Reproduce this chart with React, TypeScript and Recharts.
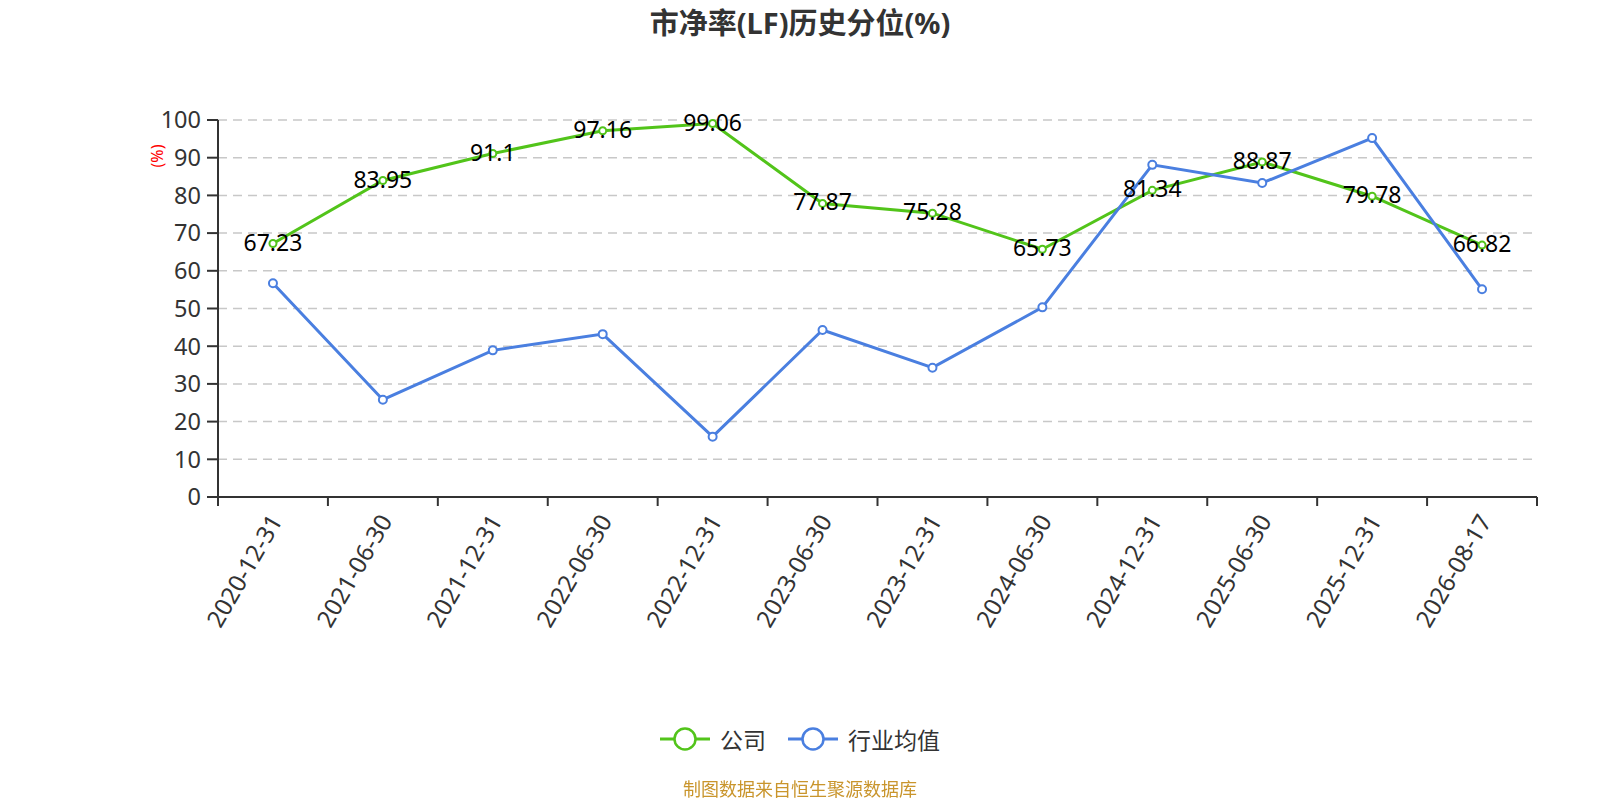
import React from "react";
import { LineChart, Line, XAxis, YAxis, CartesianGrid, LabelList } from "recharts";

const categories = [
  "2020-12-31",
  "2021-06-30",
  "2021-12-31",
  "2022-06-30",
  "2022-12-31",
  "2023-06-30",
  "2023-12-31",
  "2024-06-30",
  "2024-12-31",
  "2025-06-30",
  "2025-12-31",
  "2026-08-17",
];
const companyValues = [67.23, 83.95, 91.1, 97.16, 99.06, 77.87, 75.28, 65.73, 81.34, 88.87, 79.78, 66.82];
const industryValues = [56.7, 25.8, 38.9, 43.2, 16.0, 44.3, 34.3, 50.3, 88.1, 83.3, 95.2, 55.1];
const yTicks = [0, 10, 20, 30, 40, 50, 60, 70, 80, 90, 100];

const W = 1600;
const H = 800;
const LEFT = 218;
const RIGHT = 63;
const BAND = (W - LEFT - RIGHT) / categories.length;

const GREEN = "#52c41a";
const BLUE = "#4a7fe0";
const FONT = '"Noto Sans", "Noto Sans CJK SC", sans-serif';

const data = categories.map((date, i) => ({
  date,
  company: companyValues[i],
  industry: industryValues[i],
}));

// ticks sit on the band edges, labels at the band centre
const XTick = (props: any) => {
  const { x, y, payload, index } = props;
  const half = BAND / 2;
  const ty = y + 10;
  return (
    <g>
      <line x1={x - half} x2={x - half} y1={y - 9} y2={y} stroke="#333" strokeWidth={2} />
      {index === categories.length - 1 && (
        <line x1={x + half} x2={x + half} y1={y - 9} y2={y} stroke="#333" strokeWidth={2} />
      )}
      <text
        x={x + 2}
        y={ty}
        textAnchor="end"
        dominantBaseline="central"
        fontSize={24}
        fill="#333"
        fontFamily={FONT}
        transform={`rotate(-60 ${x + 2} ${ty})`}
      >
        {payload.value}
      </text>
    </g>
  );
};

const LegendIcon = ({ color }: { color: string }) => (
  <svg width={50} height={26} style={{ marginRight: 10 }}>
    <line x1={0} x2={50} y1={13} y2={13} stroke={color} strokeWidth={3} />
    <circle cx={25} cy={13} r={10.5} fill="#fff" stroke={color} strokeWidth={2.5} />
  </svg>
);

export default function App() {
  return (
    <div
      style={{
        position: "fixed",
        left: 0,
        top: 0,
        width: W,
        height: H,
        background: "#fff",
        fontFamily: FONT,
      }}
    >
      <div
        style={{
          position: "absolute",
          top: 4,
          left: 0,
          width: W,
          textAlign: "center",
          fontSize: 29,
          fontWeight: 700,
          color: "#333",
          lineHeight: "38px",
        }}
      >
        市净率(LF)历史分位(%)
      </div>

      <LineChart
        width={W}
        height={H}
        data={data}
        margin={{ top: 120, right: RIGHT, left: 0, bottom: 0 }}
      >
        <CartesianGrid vertical={false} stroke="#c8c8c8" strokeDasharray="9 6" strokeWidth={1.5} />
        <XAxis
          dataKey="date"
          scale="band"
          height={303}
          interval={0}
          tickLine={false}
          tickSize={9}
          tickMargin={0}
          axisLine={{ stroke: "#333", strokeWidth: 2 }}
          tick={<XTick />}
        />
        <YAxis
          width={LEFT}
          domain={[0, 100]}
          ticks={yTicks}
          interval={0}
          tickSize={11}
          tickMargin={6}
          axisLine={{ stroke: "#333", strokeWidth: 2 }}
          tickLine={{ stroke: "#333", strokeWidth: 2 }}
          tick={{ fontSize: 23.5, fill: "#333", fontFamily: FONT }}
          label={{
            content: () => (
              <text
                x={157}
                y={156}
                textAnchor="middle"
                dominantBaseline="central"
                fontSize={16}
                fill="#ff0000"
                fontFamily={FONT}
                transform="rotate(-90 157 156)"
              >
                (%)
              </text>
            ),
          }}
        />
        <Line
          type="linear"
          dataKey="company"
          stroke={GREEN}
          strokeWidth={3}
          dot={{ r: 3.5, fill: "#fff", stroke: GREEN, strokeWidth: 2 }}
          activeDot={false}
          isAnimationActive={false}
        />
        <Line
          type="linear"
          dataKey="industry"
          stroke={BLUE}
          strokeWidth={3}
          dot={{ r: 4, fill: "#fff", stroke: BLUE, strokeWidth: 2 }}
          activeDot={false}
          isAnimationActive={false}
        />
        {/* label layer on top of both lines */}
        <Line
          type="linear"
          dataKey="company"
          stroke="none"
          dot={false}
          activeDot={false}
          legendType="none"
          isAnimationActive={false}
        >
          <LabelList
            dataKey="company"
            content={(p: any) => (
              <text
                x={p.x}
                y={p.y - 2}
                textAnchor="middle"
                dominantBaseline="central"
                fontSize={23}
                fill="#000"
                fontFamily={FONT}
              >
                {p.value}
              </text>
            )}
          />
        </Line>
      </LineChart>

      <div
        style={{
          position: "absolute",
          top: 722,
          left: 0,
          width: W,
          display: "flex",
          justifyContent: "center",
          alignItems: "center",
          fontSize: 23,
          color: "#333",
        }}
      >
        <div style={{ display: "flex", alignItems: "center", marginRight: 22 }}>
          <LegendIcon color={GREEN} />
          <span>公司</span>
        </div>
        <div style={{ display: "flex", alignItems: "center" }}>
          <LegendIcon color={BLUE} />
          <span>行业均值</span>
        </div>
      </div>

      <div
        style={{
          position: "absolute",
          top: 778,
          left: 0,
          width: W,
          textAlign: "center",
          fontSize: 18,
          color: "#c9952c",
          lineHeight: "22px",
        }}
      >
        制图数据来自恒生聚源数据库
      </div>
    </div>
  );
}
